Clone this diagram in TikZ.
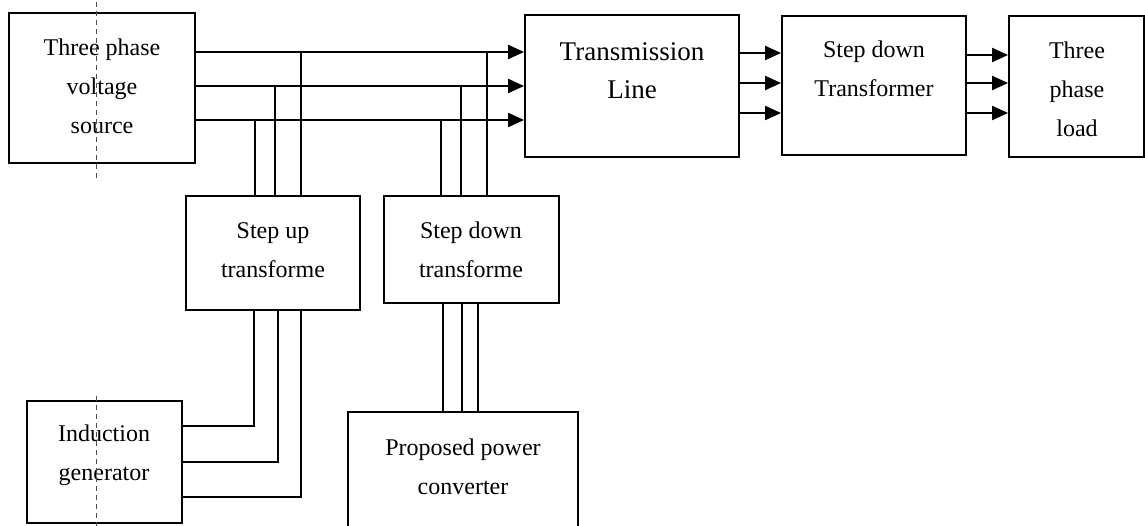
\documentclass[tikz,border=0pt]{standalone}
\usepackage{fontspec}
\setmainfont{Liberation Serif}
\usetikzlibrary{arrows.meta}
\begin{document}
\begin{tikzpicture}[x=1pt,y=-1pt,
  blk/.style={draw, line width=1.8pt, inner sep=0pt},
  lbl/.style={align=center, inner sep=0pt, font=\fontsize{24}{39}\selectfont},
  biglbl/.style={align=center, inner sep=0pt, font=\fontsize{27}{38}\selectfont},
  wire/.style={line width=2pt},
  arr/.style={line width=2pt, -{Triangle[length=16pt,width=14pt]}},
  tap/.style={line width=1.5pt},
  scan/.style={line width=0.6pt, dash pattern=on 5pt off 4pt, black!70}
]
\useasboundingbox (0,0) rectangle (1145,526);
\fill[white] (0,0) rectangle (1145,526);

% blocks
\node[blk, minimum width=186pt, minimum height=150pt] (src) at (102,88) {};
\node[blk, minimum width=214pt, minimum height=142pt] (trans) at (632,86) {};
\node[blk, minimum width=184pt, minimum height=139pt] (sdt) at (874,85.5) {};
\node[blk, minimum width=135pt, minimum height=141pt] (load) at (1076.5,86.5) {};
\node[blk, minimum width=174pt, minimum height=114pt] (sup) at (273,253) {};
\node[blk, minimum width=175pt, minimum height=107pt] (sdn) at (471.5,249.5) {};
\node[blk, minimum width=155pt, minimum height=122pt] (ind) at (104.5,462) {};
\node[blk, minimum width=230pt, minimum height=128pt] (ppc) at (463,476) {};

% labels
\node[lbl] (srcT) at (102,86) {Three phase\\voltage\\source};
\node[biglbl] (transT) at (632,71) {Transmission\\Line};
\node[lbl] (sdtT) at (874,68.5) {Step down\\Transformer};
\node[lbl] (loadT) at (1077,89) {Three\\phase\\load};
\node[lbl] (supT) at (273,250) {Step up\\transforme};
\node[lbl] (sdnT) at (471,250) {Step down\\transforme};
\node[lbl] (indT) at (104,455) {Induction\\generator};
\node[lbl] (ppcT) at (463,467) {Proposed power\\converter};

% scanner artefact line
\draw[scan] (96,2) -- (96,178);
\draw[scan] (96,396) -- (96,526);

% three-phase bus from source to transmission line
\draw[arr] (src.east |- 0,52) -- (trans.west |- 0,52);
\draw[arr] (src.east |- 0,86) -- (trans.west |- 0,86);
\draw[arr] (src.east |- 0,120) -- (trans.west |- 0,120);

% transmission line -> step down transformer
\draw[arr] (trans.east |- 0,53) -- (sdt.west |- 0,53);
\draw[arr] (trans.east |- 0,83) -- (sdt.west |- 0,83);
\draw[arr] (trans.east |- 0,113) -- (sdt.west |- 0,113);

% step down transformer -> load
\draw[arr] (sdt.east |- 0,55) -- (load.west |- 0,55);
\draw[arr] (sdt.east |- 0,83) -- (load.west |- 0,83);
\draw[arr] (sdt.east |- 0,113) -- (load.west |- 0,113);

% taps to step up transformer
\coordinate (ua) at (255,120);
\coordinate (ub) at (275,86);
\coordinate (uc) at (301,52);
\draw[tap] (ua) -- (sup.north -| ua);
\draw[tap] (ub) -- (sup.north -| ub);
\draw[tap] (uc) -- (sup.north -| uc);

% taps to step down transformer
\coordinate (da) at (441,120);
\coordinate (db) at (461,86);
\coordinate (dc) at (487,52);
\draw[tap] (da) -- (sdn.north -| da);
\draw[tap] (db) -- (sdn.north -| db);
\draw[tap] (dc) -- (sdn.north -| dc);

% step up transformer -> induction generator
\draw[tap] (sup.south -| 254,0) |- (ind.east |- 0,426);
\draw[tap] (sup.south -| 278,0) |- (ind.east |- 0,462);
\draw[tap] (sup.south -| 301,0) |- (ind.east |- 0,497);

% step down transformer -> proposed power converter
\draw[tap] (sdn.south -| 443,0) -- (ppc.north -| 443,0);
\draw[tap] (sdn.south -| 462,0) -- (ppc.north -| 462,0);
\draw[tap] (sdn.south -| 478,0) -- (ppc.north -| 478,0);
\end{tikzpicture}
\end{document}
